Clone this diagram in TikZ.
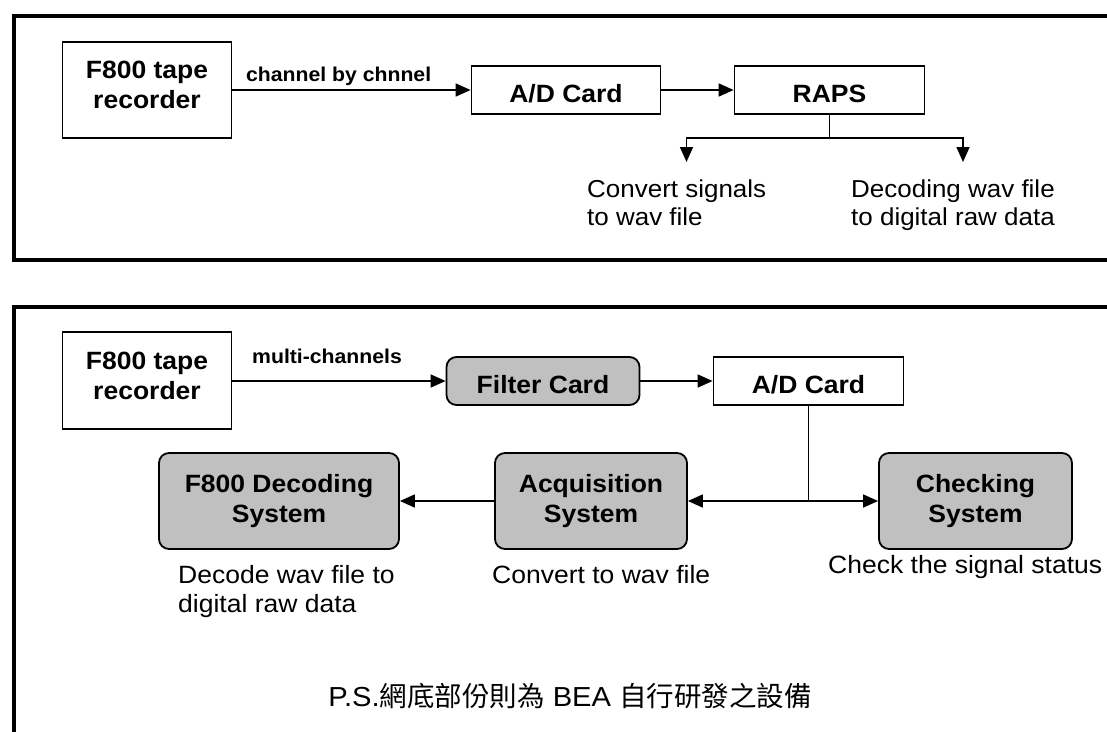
\documentclass[tikz,border=0pt]{standalone}
\usepackage{fontspec}
\setmainfont{Liberation Sans}[FakeStretch=1.06]
\newfontfamily\cjk{Noto Sans CJK TC}
\usetikzlibrary{arrows.meta}
\definecolor{boxgray}{HTML}{C0C0C0}
\tikzset{
  frame/.style={line width=4pt},
  plainbox/.style={draw, line width=1.8pt, inner sep=0pt, fill=white,
    font=\bfseries\fontsize{25}{30}\selectfont},
  graybox/.style={plainbox, fill=boxgray, rounded corners=10pt},
  wire/.style={line width=1.6pt},
  arr/.style={wire, -{Triangle[length=15pt,width=13pt]}},
  note/.style={inner sep=0pt, anchor=base west},
  small/.style={note, font=\bfseries\fontsize{20}{24}\selectfont},
}
\newcommand{\twolines}[2]{\begin{tabular}[b]{@{}c@{}}#1\\#2\end{tabular}}
\begin{document}
\begin{tikzpicture}[x=1pt, y=-1pt]
\useasboundingbox (0,0) rectangle (1107,731);
\clip (0,0) rectangle (1107,731);

% ---- upper panel: channel-by-channel processing ----
\draw[frame] (14,15.5) rectangle (1125,260);

\node[plainbox, minimum width=169pt, minimum height=96pt,
      text height=45pt, text depth=9pt] (rec1) at (147,90)
      {\twolines{F800 tape}{recorder}};
\node[plainbox, minimum width=189pt, minimum height=48pt,
      text height=24pt, text depth=0pt] (adA) at (566,90) {A/D Card};
\node[plainbox, minimum width=190pt, minimum height=48pt,
      text height=24pt, text depth=0pt] (raps) at (829.5,90) {RAPS};

\node[small] (chlab) at (246,81) {channel by chnnel};
\draw[arr] (rec1.east |- adA.west) -- (adA.west);
\draw[arr] (adA) -- (raps);

\coordinate (split) at (raps.south |- 0,138);
\coordinate (outL) at (686.5,162);
\coordinate (outR) at (963,162);
\draw[wire] (raps.south) -- (split);
\draw[arr] (split) -| (outL);
\draw[arr] (split) -| (outR);

\begin{scope}[font=\fontsize{24.5}{28}\selectfont]
  \node[note] (convA) at (587,197) {Convert signals};
  \node[note] (convB) at (587,225) {to wav file};
  \node[note] (decA) at (851,197) {Decoding wav file};
  \node[note] (decB) at (851,225) {to digital raw data};
\end{scope}

% ---- lower panel: multi-channel system ----
\draw[frame] (14,306.5) rectangle (1125,760);

\node[plainbox, minimum width=169pt, minimum height=97pt,
      text height=46pt, text depth=9pt] (rec2) at (147,380.5)
      {\twolines{F800 tape}{recorder}};
\node[graybox, minimum width=193pt, minimum height=48pt,
      text height=25pt, text depth=0pt] (filt) at (543,381) {Filter Card};
\node[plainbox, minimum width=190pt, minimum height=48pt,
      text height=25pt, text depth=0pt] (adB) at (808.5,381) {A/D Card};

\node[small] (mclab) at (252,363) {multi-channels};
\draw[arr] (rec2.east |- filt.west) -- (filt.west);
\draw[arr] (filt) -- (adB);

\begin{scope}[font=\bfseries\fontsize{25}{30}\selectfont]
  \node[graybox, minimum width=240pt, minimum height=96pt,
        text height=51pt, text depth=9pt] (dec) at (279,501)
        {\twolines{F800 Decoding}{System}};
  \node[graybox, minimum width=192pt, minimum height=96pt,
        text height=51pt, text depth=9pt] (acq) at (591,501)
        {\twolines{Acquisition}{System}};
  \node[graybox, minimum width=193pt, minimum height=96pt,
        text height=51pt, text depth=9pt] (chk) at (975.5,501)
        {\twolines{Checking}{System}};
\end{scope}

\coordinate (fork) at (adB.south |- acq.east);
\draw[wire] (adB.south) -- (fork);
\draw[arr] (fork) -- (acq.east);
\draw[arr] (fork) -- (chk.west);
\draw[arr] (acq.west) -- (dec.east);

\begin{scope}[font=\fontsize{25}{29}\selectfont]
  \node[note] (dlabA) at (178,583) {Decode wav file to};
  \node[note] (dlabB) at (178,612) {digital raw data};
  \node[note] (alab) at (492,583) {Convert to wav file};
  \node[note] (clab) at (828,573) {Check the signal status};
\end{scope}

\node[inner sep=0pt, anchor=base, font=\fontsize{27.5}{30}\selectfont] (ps)
  at (570,706) {P.S.{\cjk 網底部份則為} BEA {\cjk 自行研發之設備}};
\end{tikzpicture}
\end{document}
